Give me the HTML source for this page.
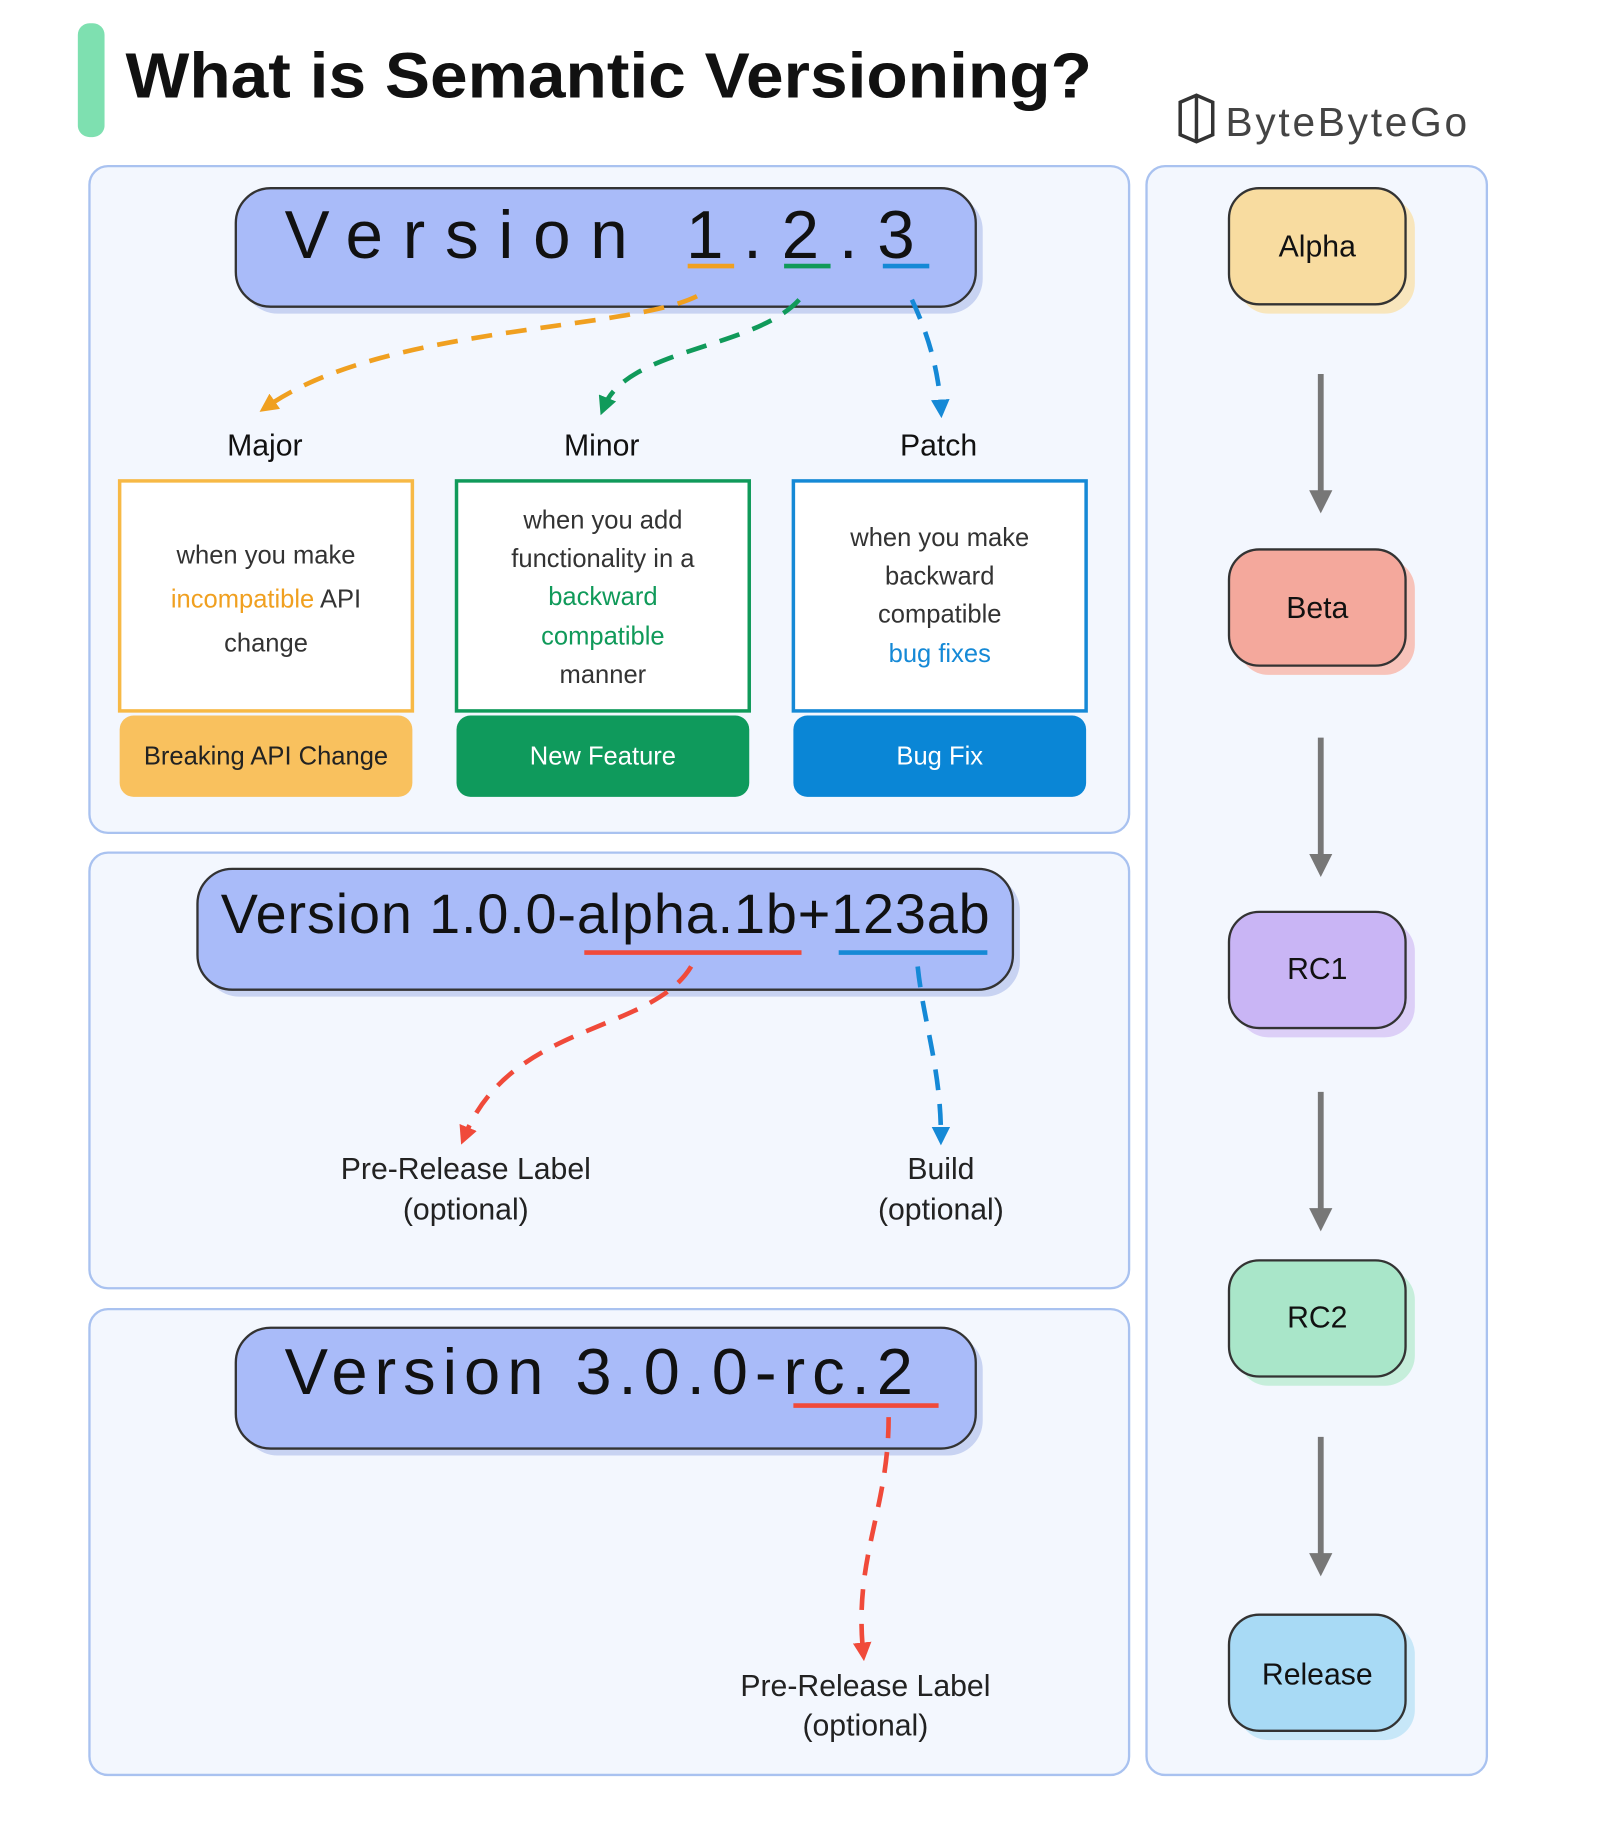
<!DOCTYPE html>
<html><head><meta charset="utf-8"><style>
html,body{margin:0;padding:0;background:#fff;}
svg{display:block;}
text{font-family:"Liberation Sans","DejaVu Sans",sans-serif;}
</style></head><body>
<svg width="1610" height="1822" viewBox="0 0 1386 1568.5" preserveAspectRatio="none" xmlns="http://www.w3.org/2000/svg">
<defs>
<marker id="ao" viewBox="0 0 10 10" refX="5" refY="5" markerWidth="4" markerHeight="4" orient="auto"><path d="M0,0 L10,5 L0,10 z" fill="#f0a020"/></marker>
<marker id="ag" viewBox="0 0 10 10" refX="5" refY="5" markerWidth="4" markerHeight="4" orient="auto"><path d="M0,0 L10,5 L0,10 z" fill="#109a5a"/></marker>
<marker id="ab" viewBox="0 0 10 10" refX="5" refY="5" markerWidth="4" markerHeight="4" orient="auto"><path d="M0,0 L10,5 L0,10 z" fill="#1589d6"/></marker>
<marker id="ar" viewBox="0 0 10 10" refX="5" refY="5" markerWidth="4" markerHeight="4" orient="auto"><path d="M0,0 L10,5 L0,10 z" fill="#f04a3a"/></marker>
<marker id="ay" viewBox="0 0 10 10" refX="5" refY="5" markerWidth="4" markerHeight="4" orient="auto"><path d="M0,0 L10,5 L0,10 z" fill="#777"/></marker>
</defs>
<rect width="1386" height="1569" fill="#fff"/>
<rect x="67" y="20" width="23" height="98" rx="10" fill="#7ee0b0"/>
<text x="108" y="84" font-size="55" font-weight="bold" fill="#111" textLength="832" lengthAdjust="spacingAndGlyphs">What is Semantic Versioning?</text>
<path d="M1016,88 l14,-6 l14,6 v28 l-14,6 l-14,-6 z" fill="none" stroke="#333" stroke-width="3"/>
<path d="M1030,82 v40" stroke="#333" stroke-width="3"/>
<text x="1055" y="117" font-size="35" fill="#444" textLength="208">ByteByteGo</text>

<rect x="77" y="143" width="895" height="574" rx="16" fill="#f3f7fe" stroke="#a9c2f0" stroke-width="2"/>
<rect x="77" y="734" width="895" height="375" rx="16" fill="#f3f7fe" stroke="#a9c2f0" stroke-width="2"/>
<rect x="77" y="1127" width="895" height="401" rx="16" fill="#f3f7fe" stroke="#a9c2f0" stroke-width="2"/>
<rect x="987" y="143" width="293" height="1385" rx="16" fill="#f3f7fe" stroke="#a9c2f0" stroke-width="2"/>

<rect x="209" y="168" width="637" height="102" rx="30" fill="#c8d3f2"/>
<rect x="203" y="162" width="637" height="102" rx="30" fill="#a9bbf9" stroke="#333" stroke-width="2"/>
<text x="245" y="222" font-size="58" fill="#111" letter-spacing="17">Version 1.2.3</text>
<line x1="592" y1="229" x2="632" y2="229" stroke="#f0a020" stroke-width="4"/>
<line x1="675" y1="229" x2="715" y2="229" stroke="#109a5a" stroke-width="4"/>
<line x1="760" y1="229" x2="800" y2="229" stroke="#1589d6" stroke-width="4"/>
<path d="M600,255 C540,285 330,280 230,350" fill="none" stroke="#f0a020" stroke-width="4" stroke-dasharray="18,12" marker-end="url(#ao)"/>
<path d="M688,258 C650,300 540,300 520,350" fill="none" stroke="#109a5a" stroke-width="4" stroke-dasharray="18,12" marker-end="url(#ag)"/>
<path d="M785,258 C800,290 808,320 810,352" fill="none" stroke="#1589d6" stroke-width="4" stroke-dasharray="18,12" marker-end="url(#ab)"/>
<g font-size="26" fill="#111" text-anchor="middle">
<text x="228" y="392">Major</text><text x="518" y="392">Minor</text><text x="808" y="392">Patch</text>
</g>
<rect x="103" y="616" width="252" height="70" rx="12" fill="#f9c15e"/>
<rect x="103" y="414" width="252" height="198" fill="#fff" stroke="#f7b946" stroke-width="3"/>
<rect x="393" y="616" width="252" height="70" rx="12" fill="#0f9a5c"/>
<rect x="393" y="414" width="252" height="198" fill="#fff" stroke="#109a5a" stroke-width="3"/>
<rect x="683" y="616" width="252" height="70" rx="12" fill="#0a86d6"/>
<rect x="683" y="414" width="252" height="198" fill="#fff" stroke="#1589d6" stroke-width="3"/>
<g font-size="22" text-anchor="middle" fill="#333">
<text x="229" y="485">when you make</text>
<text x="229" y="523"><tspan fill="#f0a020">incompatible</tspan> API</text>
<text x="229" y="561">change</text>
<text x="519" y="455">when you add</text>
<text x="519" y="488">functionality in a</text>
<text x="519" y="521" fill="#109a5a">backward</text>
<text x="519" y="555" fill="#109a5a">compatible</text>
<text x="519" y="588">manner</text>
<text x="809" y="470">when you make</text>
<text x="809" y="503">backward</text>
<text x="809" y="536">compatible</text>
<text x="809" y="570" fill="#1589d6">bug fixes</text>
<text x="229" y="658" fill="#222">Breaking API Change</text>
<text x="519" y="658" fill="#fff">New Feature</text>
<text x="809" y="658" fill="#fff">Bug Fix</text>
</g>

<rect x="176" y="754" width="702" height="104" rx="30" fill="#c8d3f2"/>
<rect x="170" y="748" width="702" height="104" rx="30" fill="#a9bbf9" stroke="#333" stroke-width="2"/>
<text x="190" y="803" font-size="48" fill="#111" textLength="662">Version 1.0.0-alpha.1b+123ab</text>
<line x1="503" y1="820" x2="690" y2="820" stroke="#f04a3a" stroke-width="4"/>
<line x1="722" y1="820" x2="850" y2="820" stroke="#1589d6" stroke-width="4"/>
<path d="M595,832 C560,890 440,880 400,978" fill="none" stroke="#f04a3a" stroke-width="4" stroke-dasharray="18,12" marker-end="url(#ar)"/>
<path d="M790,832 C795,880 810,920 810,978" fill="none" stroke="#1589d6" stroke-width="4" stroke-dasharray="18,12" marker-end="url(#ab)"/>
<g font-size="26" fill="#222" text-anchor="middle">
<text x="401" y="1015">Pre-Release Label</text><text x="401" y="1050">(optional)</text>
<text x="810" y="1015">Build</text><text x="810" y="1050">(optional)</text>
</g>

<rect x="209" y="1149" width="637" height="104" rx="30" fill="#c8d3f2"/>
<rect x="203" y="1143" width="637" height="104" rx="30" fill="#a9bbf9" stroke="#333" stroke-width="2"/>
<text x="245" y="1200" font-size="56" fill="#111" letter-spacing="6">Version 3.0.0-rc.2</text>
<line x1="683" y1="1210" x2="808" y2="1210" stroke="#f04a3a" stroke-width="4"/>
<path d="M765,1220 C765,1300 735,1340 743,1422" fill="none" stroke="#f04a3a" stroke-width="4" stroke-dasharray="18,12" marker-end="url(#ar)"/>
<g font-size="26" fill="#222" text-anchor="middle">
<text x="745" y="1460">Pre-Release Label</text><text x="745" y="1494">(optional)</text>
</g>

<g font-size="26" fill="#111" text-anchor="middle">
<rect x="1066" y="170" width="152" height="100" rx="26" fill="#f8e6bd"/>
<rect x="1058" y="162" width="152" height="100" rx="26" fill="#f8dca0" stroke="#333" stroke-width="2"/>
<text x="1134" y="221">Alpha</text>
<rect x="1066" y="481" width="152" height="100" rx="26" fill="#f7c3ba"/>
<rect x="1058" y="473" width="152" height="100" rx="26" fill="#f4a89c" stroke="#333" stroke-width="2"/>
<text x="1134" y="532">Beta</text>
<rect x="1066" y="793" width="152" height="100" rx="26" fill="#dccff7"/>
<rect x="1058" y="785" width="152" height="100" rx="26" fill="#c9b5f5" stroke="#333" stroke-width="2"/>
<text x="1134" y="843">RC1</text>
<rect x="1066" y="1093" width="152" height="100" rx="26" fill="#c6eedb"/>
<rect x="1058" y="1085" width="152" height="100" rx="26" fill="#a9e6c9" stroke="#333" stroke-width="2"/>
<text x="1134" y="1143">RC2</text>
<rect x="1066" y="1398" width="152" height="100" rx="26" fill="#c7e7f8"/>
<rect x="1058" y="1390" width="152" height="100" rx="26" fill="#a8daf5" stroke="#333" stroke-width="2"/>
<text x="1134" y="1450">Release</text>
</g>
<g stroke="#777" stroke-width="5" marker-end="url(#ay)">
<line x1="1137" y1="322" x2="1137" y2="432"/>
<line x1="1137" y1="635" x2="1137" y2="745"/>
<line x1="1137" y1="940" x2="1137" y2="1050"/>
<line x1="1137" y1="1237" x2="1137" y2="1347"/>
</g>
</svg>
</body></html>
